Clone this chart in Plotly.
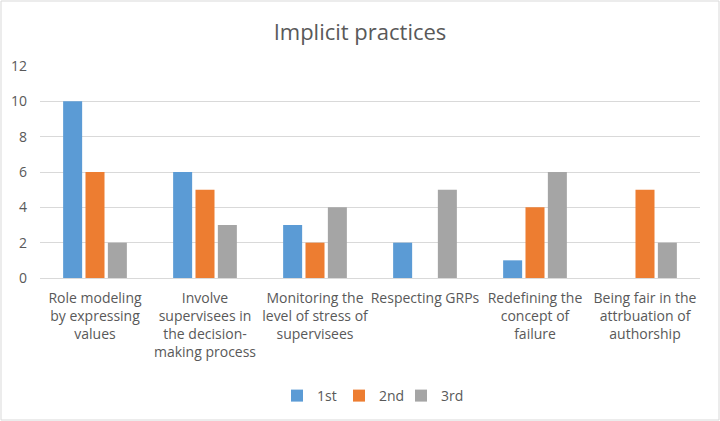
import plotly.graph_objects as go

categories = [
    "Role modeling<br>by expressing<br>values",
    "Involve<br>supervisees in<br>the decision-<br>making process",
    "Monitoring the<br>level of stress of<br>supervisees",
    "Respecting GRPs",
    "Redefining the<br>concept of<br>failure",
    "Being fair in the<br>attrbuation of<br>authorship",
]
series_names = ["1st", "2nd", "3rd"]
first = [10, 6, 3, 2, 1, None]
second = [6, 5, 2, None, 4, 5]
third = [2, 3, 4, 5, 6, 2]
colors = ["#5B9BD5", "#ED7D31", "#A5A5A5"]
y_ticks = [0, 2, 4, 6, 8, 10, 12]

font_family = "Open Sans, Lato, sans-serif"
fig = go.Figure()
for name, vals, c in zip(series_names, [first, second, third], colors):
    fig.add_trace(go.Bar(name=name, x=categories, y=vals, marker_color=c,
                         marker_line_width=0))

W, H = 720, 421
l, r, t, b = 40, 20, 66, 143
pw, ph = W - l - r, H - t - b

fig.update_layout(
    width=W, height=H,
    margin=dict(l=l, r=r, t=t, b=b, autoexpand=False),
    paper_bgcolor="white", plot_bgcolor="white",
    font=dict(family=font_family, color="#595959", size=14),
    title=dict(text="Implicit practices", x=0.5, xanchor="center",
               y=1 - 32 / H, yanchor="middle",
               font=dict(size=22, color="#595959", family=font_family)),
    barmode="group", bargap=0.39, bargroupgap=0.15,
    showlegend=True,
    legend=dict(orientation="h", x=0.5, xanchor="center",
                y=(t + ph - 396) / ph, yanchor="middle",
                font=dict(size=14, color="#595959"),
                itemwidth=30, tracegroupgap=0,
                entrywidth=17, entrywidthmode="pixels"),
    yaxis=dict(range=[0, 12], tickvals=y_ticks, showgrid=True,
               gridcolor="#D9D9D9", gridwidth=1, zeroline=True,
               zerolinecolor="#D9D9D9", zerolinewidth=1, showline=False,
               ticks="", tickfont=dict(size=14, color="#595959"),
               ticklabelstandoff=12),
    xaxis=dict(showline=True, linecolor="#D9D9D9", linewidth=1, ticks="",
               tickangle=0, tickfont=dict(size=14, color="#595959"),
               ticklabelstandoff=7),
    shapes=[dict(type="rect", xref="paper", yref="paper",
                 x0=(1 - l) / pw, x1=(W - 1 - l) / pw,
                 y0=(t + ph - (H - 1)) / ph, y1=(t + ph - 1) / ph,
                 line=dict(color="#D9D9D9", width=1), layer="below")],
)

fig.write_html("out.html", config={"displayModeBar": False},
               post_script="document.body.style.margin='0';document.body.style.overflow='hidden';")
